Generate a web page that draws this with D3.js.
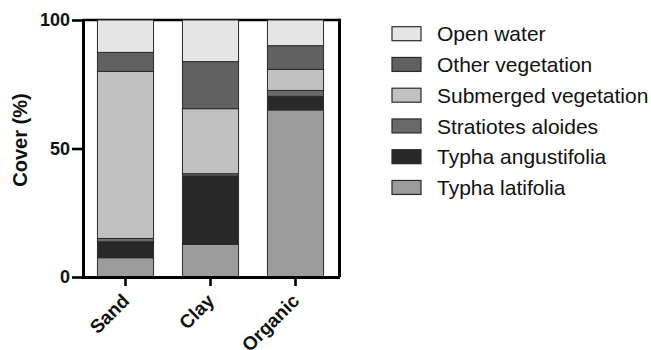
<!DOCTYPE html>
<html>
<head>
<meta charset="utf-8">
<script src="https://cdn.jsdelivr.net/npm/d3@7"></script>
<style>
  html, body { margin: 0; padding: 0; background: #fff; }
  svg { display: block; font-family: "Liberation Sans", Arial, Helvetica, sans-serif; }
</style>
</head>
<body>
<svg id="chart" width="651" height="350"></svg>
<script>
// ---- data ----
const categories = ["Sand", "Clay", "Organic"];
const seriesNames = ["Typha latifolia", "Typha angustifolia", "Stratiotes aloides",
                     "Submerged vegetation", "Other vegetation", "Open water"];
const typhaLatifolia      = [7.5, 12.7, 65.0];
const typhaAngustifolia   = [6.2, 26.6, 5.3];
const stratiotesAloides   = [1.3, 0.9, 2.3];
const submergedVegetation = [65.0, 25.3, 8.2];
const otherVegetation     = [7.4, 18.3, 9.2];
const openWater           = [12.6, 16.2, 10.0];
const yTicks = [0, 50, 100];
const yLabel = "Cover (%)";

const seriesValues = [typhaLatifolia, typhaAngustifolia, stratiotesAloides,
                      submergedVegetation, otherVegetation, openWater];
const colors = ["#9c9c9c", "#282828", "#6a6a6a", "#c1c1c1", "#616161", "#e5e5e5"];

const rows = categories.map((c, i) => {
  const r = { cat: c };
  seriesNames.forEach((s, j) => r[s] = seriesValues[j][i]);
  return r;
});
const stacked = d3.stack().keys(seriesNames)(rows);

const svg = d3.select("#chart");
const pLeft = 83, pRight = 338, pTop = 20, pBottom = 277;

const x = d3.scaleBand().domain(categories).range([pLeft, pRight])
  .paddingInner(0.34).paddingOuter(0.17);
const y = d3.scaleLinear().domain([0, 100]).range([pBottom, pTop]);

// frame (top & right)
svg.append("line").attr("x1", pLeft).attr("x2", pRight + 2).attr("y1", pTop).attr("y2", pTop)
  .attr("stroke", "#000").attr("stroke-width", 2.5);
svg.append("line").attr("x1", pRight + 1.5).attr("x2", pRight + 1.5).attr("y1", pTop - 1.2).attr("y2", pBottom)
  .attr("stroke", "#000").attr("stroke-width", 3);

// bars
svg.append("g").selectAll("g").data(stacked).join("g")
  .attr("fill", (d, i) => colors[i])
  .selectAll("rect").data(d => d).join("rect")
  .attr("x", d => x(d.data.cat))
  .attr("width", x.bandwidth())
  .attr("y", d => y(d[1]))
  .attr("height", d => y(d[0]) - y(d[1]))
  .attr("stroke", "#2a2a2a").attr("stroke-width", 1);

// y axis
const yAxis = svg.append("g").attr("transform", `translate(${pLeft},0)`)
  .call(d3.axisLeft(y).tickValues(yTicks).tickFormat(d3.format("d")).tickSize(11).tickSizeOuter(0).tickPadding(2));
yAxis.select(".domain").attr("stroke", "#000").attr("stroke-width", 3).attr("stroke-linecap", "square");
yAxis.selectAll(".tick line").attr("stroke", "#000").attr("stroke-width", 2.6);
yAxis.selectAll(".tick text").attr("fill", "#111").style("font-size", "18px").style("font-weight", "bold");

// x axis
const xAxis = svg.append("g").attr("transform", `translate(0,${pBottom})`)
  .call(d3.axisBottom(x).tickSize(9).tickSizeOuter(0));
xAxis.select(".domain").attr("stroke", "#000").attr("stroke-width", 3).attr("stroke-linecap", "square");
xAxis.selectAll(".tick line").attr("stroke", "#000").attr("stroke-width", 2.6);
xAxis.selectAll(".tick text")
  .attr("x", 0).attr("y", 0).attr("dy", 0)
  .attr("text-anchor", "end")
  .attr("transform", "translate(5,25) rotate(-45)")
  .attr("fill", "#111").style("font-size", "19px").style("font-weight", "bold");

// y label
svg.append("text")
  .attr("transform", "translate(27,140) rotate(-90)")
  .attr("text-anchor", "middle")
  .attr("fill", "#111").style("font-size", "20px").style("font-weight", "bold")
  .text(yLabel);

// legend (top = last series)
const legendOrder = seriesNames.map((s, i) => ({ s, c: colors[i] })).reverse();
const lg = svg.append("g").selectAll("g").data(legendOrder).join("g")
  .attr("transform", (d, i) => `translate(392,${33.7 + i * 30.75})`);
lg.append("rect").attr("x", 0).attr("y", -7).attr("width", 29).attr("height", 14)
  .attr("fill", d => d.c).attr("stroke", "#2a2a2a").attr("stroke-width", 1.2);
lg.append("text").attr("x", 45).attr("y", 0).attr("dy", "0.36em")
  .attr("fill", "#111").style("font-size", "21px").text(d => d.s);
</script>
</body>
</html>
